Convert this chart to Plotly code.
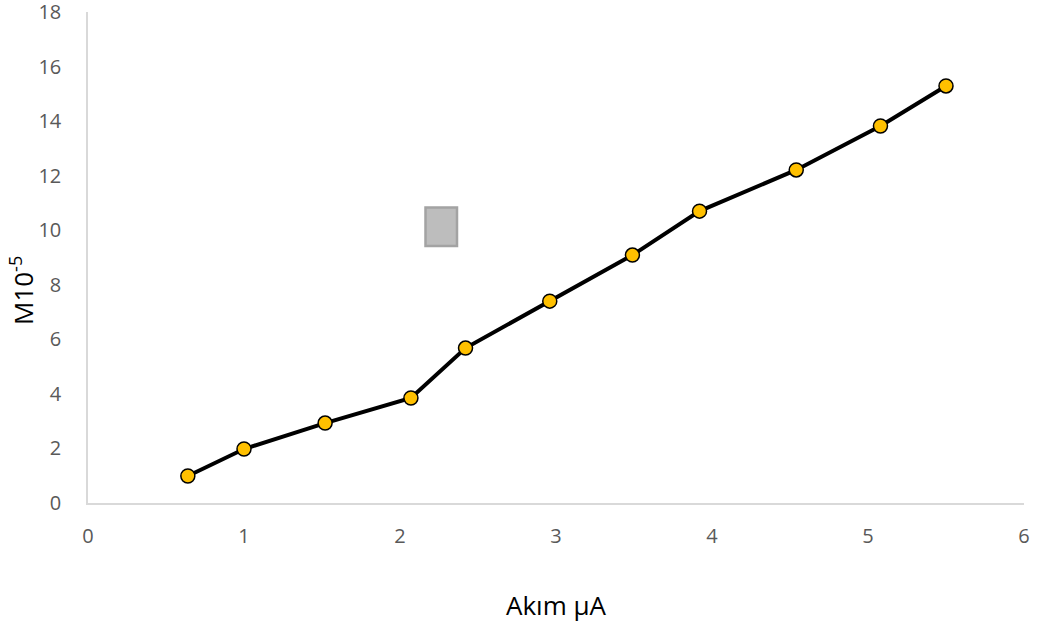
import plotly.graph_objects as go

akim = [0.64, 1.0, 1.52, 2.07, 2.42, 2.96, 3.49, 3.92, 4.54, 5.08, 5.50]
m_values = [0.99, 1.98, 2.93, 3.85, 5.68, 7.40, 9.09, 10.70, 12.21, 13.82, 15.29]
x_ticks = [0, 1, 2, 3, 4, 5, 6]
y_ticks = [0, 2, 4, 6, 8, 10, 12, 14, 16, 18]

# target plot area in screenshot pixels (page body margin removed below)
PX0, PX1, PY0, PY1 = 88, 1024, 12, 503
W, H = 1037, 627
PW, PH = PX1 - PX0, PY1 - PY0


def px(x):
    return (x - PX0) / PW


def py(y):
    return (PY1 - y) / PH


fig = go.Figure()
fig.add_trace(go.Scatter(
    x=akim, y=m_values, mode="lines+markers",
    line=dict(color="black", width=4),
    marker=dict(size=14, color="#ffc000", line=dict(color="black", width=1.5)),
    showlegend=False,
))

axis_font = dict(family="Open Sans, sans-serif", size=20, color="#595959")
title_font = dict(family="Open Sans, sans-serif", size=26, color="black")
fig.update_layout(
    width=W, height=H,
    margin=dict(l=PX0, r=W - PX1, t=PY0, b=H - PY1, pad=0),
    paper_bgcolor="white", plot_bgcolor="white",
    xaxis=dict(range=[0, 6], tickvals=x_ticks, showgrid=False, zeroline=False,
               showline=True, linecolor="#d9d9d9", linewidth=1.5, automargin=False,
               ticks="", tickfont=axis_font, ticklabelstandoff=14,
               ticklabeloverflow="allow"),
    yaxis=dict(range=[0, 18], tickvals=y_ticks, showgrid=False, zeroline=False,
               showline=True, linecolor="#d9d9d9", linewidth=1.5, automargin=False,
               ticks="", tickfont=axis_font, ticklabelstandoff=21,
               ticklabeloverflow="allow"),
    annotations=[
        dict(text="Akım µA", xref="paper", yref="paper", x=px(556), y=py(605),
             xanchor="center", yanchor="middle", showarrow=False, font=title_font),
        dict(text="M10<sup>-5</sup>", xref="paper", yref="paper", x=px(22), y=py(291),
             xanchor="center", yanchor="middle", showarrow=False, textangle=-90,
             font=title_font),
    ],
    shapes=[
        dict(type="rect", xref="paper", yref="paper",
             x0=px(425.5), x1=px(457), y0=py(246), y1=py(207.5),
             fillcolor="#bdbdbd", line=dict(color="#a3a3a3", width=2.5)),
    ],
)

fig.write_html(
    "out.html",
    config={"displayModeBar": False},
    post_script="document.body.style.margin='0';document.body.style.overflow='hidden';",
)
